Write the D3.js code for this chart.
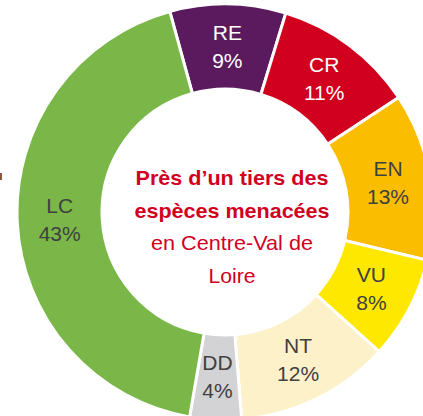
<!DOCTYPE html>
<html>
<head>
<meta charset="utf-8">
<script src="https://cdn.jsdelivr.net/npm/d3@7"></script>
<style>
  body { margin: 0; background: #fff; }
  svg { display: block; }
</style>
</head>
<body>
<svg id="chart" width="423" height="416"></svg>
<script>
// categories and shares (percent), clockwise from the top
let categories = ["RE", "CR", "EN", "VU", "NT", "DD", "LC"];
let values = [9, 11, 13, 8, 12, 4, 43];
let colors = ["#5b1a5e", "#d1001f", "#fbbd00", "#ffe800", "#fcf1c8", "#d3d3d5", "#7ab648"];
let centerLines = ["Près d\u2019un tiers des", "espèces menacées", "en Centre-Val de", "Loire"];

let svg = d3.select("#chart");
let cx = 225, cy = 212;
let inner = 123, outer = 208;

// small brown tick on the left edge
svg.append("rect").attr("x", 0).attr("y", 173).attr("width", 2).attr("height", 7).attr("fill", "#8b5a3c");

let startA = -15.4 * Math.PI / 180;
let pie = d3.pie().sort(null).value(d => d.v)
  .startAngle(startA).endAngle(startA + 2 * Math.PI);
let data = categories.map((c, i) => ({ c: c, v: values[i], col: colors[i] }));
let arcs = pie(data);

let arc = d3.arc().innerRadius(inner).outerRadius(outer);
let g = svg.append("g").attr("transform", `translate(${cx},${cy})`);

g.selectAll("path").data(arcs).enter().append("path")
  .attr("d", arc)
  .attr("fill", d => d.data.col)
  .attr("stroke", "#fff")
  .attr("stroke-width", 3);

let labelArc = d3.arc().innerRadius((inner + outer) / 2).outerRadius((inner + outer) / 2);
let lab = g.selectAll("text.lab").data(arcs).enter().append("text")
  .attr("class", "lab")
  .attr("transform", d => `translate(${labelArc.centroid(d)})`)
  .attr("text-anchor", "middle")
  .attr("font-family", "Liberation Sans, Arial, sans-serif")
  .attr("font-size", 21)
  .attr("fill", d => (d.data.c === "RE" || d.data.c === "CR") ? "#ffffff" : "#404040");
lab.append("tspan").attr("x", 0).attr("y", -7).text(d => d.data.c);
lab.append("tspan").attr("x", 0).attr("y", 21).text(d => d.data.v + "%");

// centre text
let widths = [193, 195, 162, 47];
let ct = svg.append("g").attr("transform", `translate(232,0)`);
centerLines.forEach((t, i) => {
  ct.append("text")
    .attr("x", 0)
    .attr("y", 185 + i * 32.5)
    .attr("text-anchor", "middle")
    .attr("font-family", "Liberation Sans Narrow, Arial Narrow, Liberation Sans, sans-serif")
    .attr("font-size", 21)
    .attr("font-weight", i < 2 ? "bold" : "normal")
    .attr("fill", "#d1001f")
    .attr("textLength", widths[i])
    .attr("lengthAdjust", "spacingAndGlyphs")
    .text(t);
});
</script>
</body>
</html>
